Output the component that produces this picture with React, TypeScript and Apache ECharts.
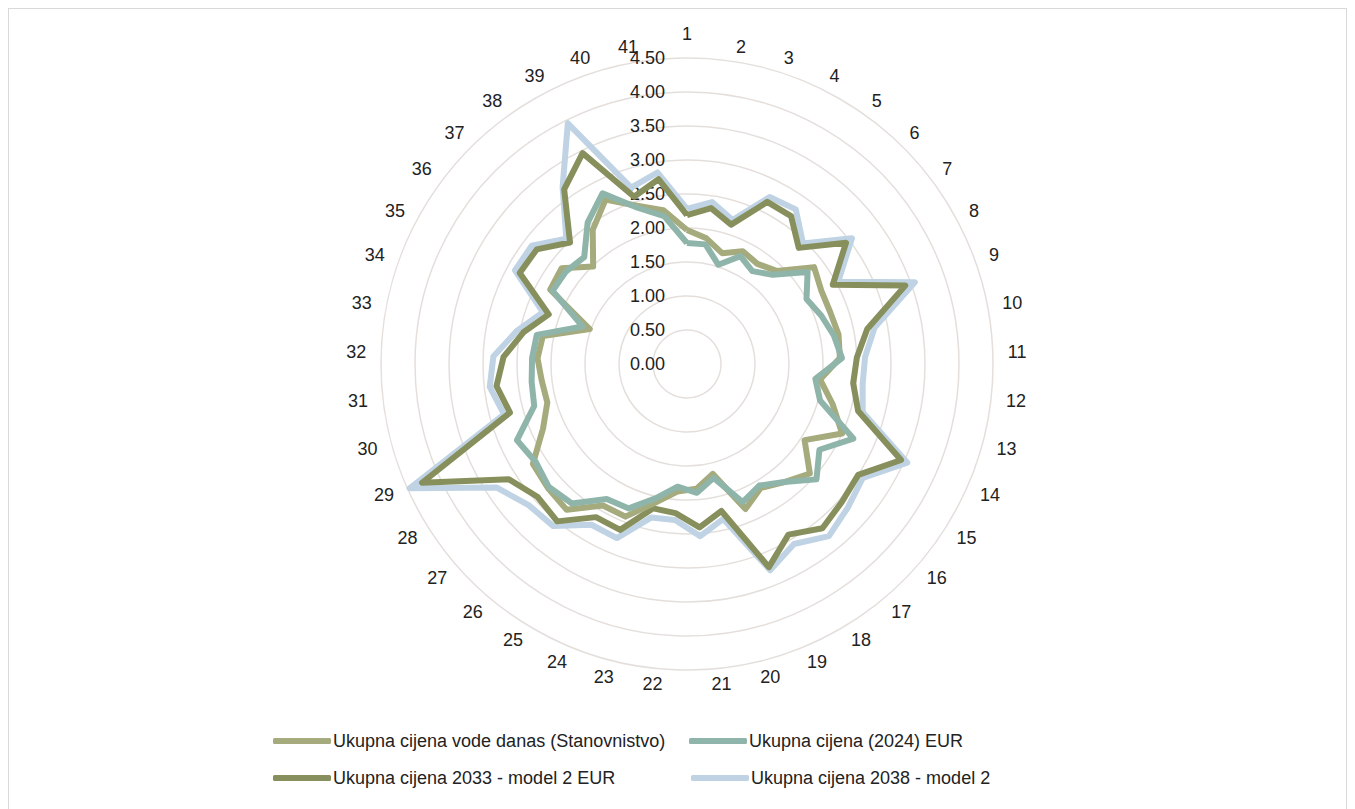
import React, { useEffect, useRef } from "react";
import * as echarts from "echarts";

// Axis categories (clockwise from top)
const axisNames = [
  "1", "2", "3", "4", "5", "6", "7", "8", "9", "10",
  "11", "12", "13", "14", "15", "16", "17", "18", "19", "20",
  "21", "22", "23", "24", "25", "26", "27", "28", "29", "30",
  "31", "32", "33", "34", "35", "36", "37", "38", "39", "40", "41",
];

// Value tick labels
const tickValues = [0, 0.5, 1, 1.5, 2, 2.5, 3, 3.5, 4, 4.5];

const seriesNames = [
  "Ukupna cijena vode danas (Stanovnistvo)",
  "Ukupna cijena (2024) EUR",
  "Ukupna cijena 2033 - model 2 EUR",
  "Ukupna cijena 2038 - model 2",
];

const danas = [
  1.97, 1.87, 1.71, 1.85, 1.8, 1.9, 2.35, 2.25, 2.24, 2.27,
  2.25, 1.97, 2.22, 2.5, 2.06, 2.42, 2.25, 2.12, 2.3, 1.66,
  1.84, 1.88, 2.1, 2.42, 2.42, 2.78, 2.74, 2.7, 2.32, 2.13,
  2.15, 2.2, 2.16, 1.52, 2.29, 2.32, 1.99, 2.41, 2.7, 2.44, 2.29,
];

const cijena2024 = [
  1.78, 1.78, 1.53, 1.77, 1.67, 1.82, 2.23, 2.0, 2.1, 2.2,
  2.28, 1.9, 2.03, 2.68, 2.32, 2.55, 2.25, 2.08, 2.19, 1.72,
  1.9, 1.81, 2.03, 2.29, 2.31, 2.66, 2.72, 2.65, 2.74, 2.33,
  2.3, 2.28, 2.25, 1.63, 2.25, 2.24, 2.18, 2.54, 2.8, 2.41, 2.2,
];

const cijena2033 = [
  2.19, 2.32, 2.15, 2.66, 2.66, 2.37, 2.94, 2.44, 3.41, 2.7,
  2.5, 2.46, 2.61, 3.45, 3.0, 3.05, 3.13, 2.92, 3.22, 2.22,
  2.41, 2.2, 2.18, 2.63, 2.62, 3.0, 2.94, 3.12, 4.27, 2.7,
  2.82, 2.7, 2.45, 2.16, 2.8, 2.78, 2.48, 3.14, 3.46, 2.58, 2.75,
];

const cijena2038 = [
  2.28, 2.41, 2.22, 2.74, 2.78, 2.46, 3.05, 2.53, 3.56, 2.81,
  2.62, 2.6, 2.68, 3.55, 3.08, 3.17, 3.28, 3.08, 3.27, 2.34,
  2.54, 2.3, 2.32, 2.76, 2.75, 3.09, 3.12, 3.34, 4.47, 2.79,
  2.92, 2.85, 2.55, 2.25, 2.88, 2.87, 2.56, 3.18, 3.95, 2.72, 2.85,
];

const colors = ["#a5ab7d", "#8fb5aa", "#878f5c", "#bfd3e4"];

// ECharts radar goes counter-clockwise; reorder so axes run clockwise.
function clockwiseOrder<T>(arr: T[]): T[] {
  return [arr[0], ...arr.slice(1).reverse()];
}

const FONT = "Liberation Sans";

export default function App() {
  const ref = useRef<HTMLDivElement>(null);

  useEffect(() => {
    if (!ref.current) return;
    const chart = echarts.init(ref.current, null, { renderer: "svg" });
    const maxV = tickValues[tickValues.length - 1];
    const names = clockwiseOrder(axisNames);
    const indicator = names.map((n, i) =>
      i === 0
        ? {
            name: n,
            min: 0,
            max: maxV,
            axisLabel: {
              show: true,
              color: "#222",
              fontSize: 18,
              fontFamily: FONT,
              margin: 22,
              formatter: (v: number) => v.toFixed(2),
            },
          }
        : { name: n, min: 0, max: maxV }
    );
    const datasets = [danas, cijena2024, cijena2033, cijena2038];
    const zOrder = [3, 4, 2, 1];
    const series = datasets.map((d, i) => ({
      type: "radar",
      name: seriesNames[i],
      z: zOrder[i],
      symbol: "none",
      lineStyle: { color: colors[i], width: 6, join: "round" },
      itemStyle: { color: colors[i] },
      emphasis: { disabled: true },
      data: [{ name: seriesNames[i], value: clockwiseOrder(d) }],
    }));
    const legendPos = [
      { left: 264, top: 723 },
      { left: 680, top: 723 },
      { left: 264, top: 760 },
      { left: 682, top: 760 },
    ];
    chart.setOption({
      animation: false,
      legend: seriesNames.map((n, i) => ({
        data: [n],
        left: legendPos[i].left,
        top: legendPos[i].top,
        padding: 0,
        icon: "roundRect",
        itemWidth: 58,
        itemHeight: 6,
        selectedMode: false,
        textStyle: { color: "#222", fontSize: 18, fontFamily: FONT, padding: [0, 0, 0, -3] },
      })),
      radar: {
        center: [678, 355],
        radius: 306,
        startAngle: 90,
        shape: "circle",
        splitNumber: tickValues.length - 1,
        indicator,
        axisName: { color: "#222", fontSize: 18, fontFamily: FONT },
        nameGap: 15,
        axisLine: { show: false },
        axisTick: { show: false },
        axisLabel: { show: false },
        splitLine: { lineStyle: { color: "#e5dfdc", width: 1.5 } },
        splitArea: { show: false },
      },
      series,
    });
    return () => chart.dispose();
  }, []);

  return (
    <div style={{ width: 1339, height: 810, border: "1px solid #d9d9d9", boxSizing: "border-box", background: "#fff" }}>
      <div ref={ref} style={{ width: 1337, height: 808 }} />
    </div>
  );
}
